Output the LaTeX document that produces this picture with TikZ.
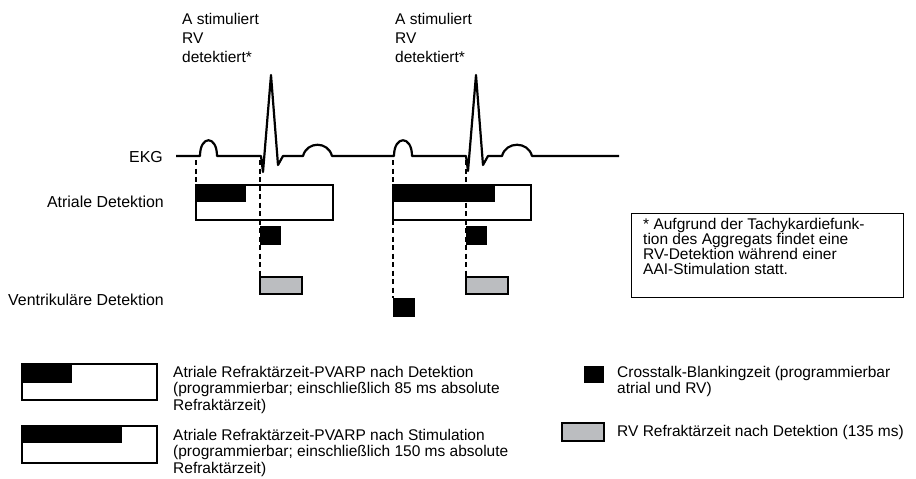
\documentclass[tikz,border=0pt]{standalone}
\usepackage{fontspec}
\setmainfont{Liberation Sans}
\usepackage{tikz}
\usetikzlibrary{positioning, calc}
\definecolor{RefGray}{RGB}{187,189,192}
\tikzset{
  txt/.style={font=\fontsize{15.5}{16.5}\selectfont, align=left, inner sep=0pt, anchor=north west},
  toptxt/.style={txt, font=\fontsize{15.5}{19}\selectfont},
  notetxt/.style={txt, font=\fontsize{15.5}{15}\selectfont},
  rowlbl/.style={font=\fontsize{15.9}{16.5}\selectfont, inner sep=0pt, anchor=base east},
  ekgline/.style={line width=2.2pt, line join=round},
  marker/.style={line width=1.6pt, dash pattern=on 5pt off 3.5pt},
  arpbox/.style={draw, line width=2pt, inner sep=0pt, outer sep=0pt, anchor=north west,
    minimum width=137, minimum height=35},
  blkbar/.style={fill=black, inner sep=0pt, outer sep=0pt, anchor=north west, minimum height=17},
  xtalk/.style={fill=black, inner sep=0pt, outer sep=0pt, anchor=north west,
    minimum width=21, minimum height=19},
  rvref/.style={draw, line width=1.8pt, fill=RefGray, inner sep=0pt, outer sep=0pt, anchor=north west,
    minimum width=42, minimum height=17},
  notebox/.style={draw, line width=0.9pt, inner sep=0pt, anchor=north west,
    minimum width=272, minimum height=84},
}

\begin{document}
\begin{tikzpicture}[x=1pt, y=-1pt]
  \useasboundingbox (0,0) rectangle (916,479);
  % labels above the beats
  \node[toptxt] (stim1) at (182,12.7) {A stimuliert\\RV\\detektiert*};
  \node[toptxt] (stim2) at (395,12.7) {A stimuliert\\RV\\detektiert*};
  % EKG trace
  \node[rowlbl] (ekg) at (163,162) {EKG};
  \draw[ekgline] (176,156) -- (200,156)
    .. controls (200,135) and (217,135) .. (217,156)
    -- (261,156) -- (263,172) -- (271,75) -- (278,165) -- (283,156)
    -- (303,156) .. controls (307,141) and (328,141) .. (332,156)
    -- (394,156) .. controls (394,135) and (412,135) .. (412,156)
    -- (466,156) -- (468,171) -- (476,75) -- (483,165) -- (488,156)
    -- (502,156) .. controls (506,141) and (528,141) .. (532,156)
    -- (619,156);
  % row labels
  \node[rowlbl] (atr) at (164,207) {Atriale Detektion};
  \node[rowlbl] (ven) at (164,305) {Ventrikuläre Detektion};
  % atrial refractory periods
  \node[arpbox] (arp1) at (196,185) {};
  \node[blkbar, minimum width=50] (arpb1) at (arp1.north west) {};
  \node[arpbox, minimum width=138] (arp2) at (393,185) {};
  \node[blkbar, minimum width=102] (arpb2) at (arp2.north west) {};
  % crosstalk blanking and RV refractory
  \foreach \x [count=\i] in {260,466} {
    \node[xtalk] (xt\i) at (\x,226) {};
    \node[rvref] (rv\i) at (\x,277) {};
  }
  \node[xtalk, minimum width=22] (vs) at (393,298) {};
  % markers
  \coordinate (m1) at (196,160);
  \coordinate (m2) at (260,160);
  \coordinate (m3) at (393,160);
  \coordinate (m4) at (466,160);
  \draw[marker] (m1) -- (arp1.north west);
  \draw[marker] (m2) -- (rv1.north west);
  \draw[marker] (m3) -- (vs.north west);
  \draw[marker] (m4) -- (rv2.north west);
  % footnote
  \node[notebox] (note) at (631,213) {};
  \node[notetxt] (notetext) at (643,217.7) {* Aufgrund der Tachykardiefunk-\\tion des Aggregats findet eine\\RV-Detektion während einer\\AAI-Stimulation statt.};
  % legend
  \node[arpbox, minimum width=135, minimum height=36] (leg1) at (22,364) {};
  \node[blkbar, minimum width=50, minimum height=19] (legb1) at (leg1.north west) {};
  \node[txt] (leg1txt) at (173,365.7) {Atriale Refraktärzeit-PVARP nach Detektion\\(programmierbar; einschließlich 85 ms absolute\\Refraktärzeit)};
  \node[arpbox, minimum width=135, minimum height=37] (leg2) at (22,426) {};
  \node[blkbar, minimum width=100] (legb2) at (leg2.north west) {};
  \node[txt] (leg2txt) at (173,428.7) {Atriale Refraktärzeit-PVARP nach Stimulation\\(programmierbar; einschließlich 150 ms absolute\\Refraktärzeit)};
  \node[xtalk, minimum width=20, minimum height=17] (leg3) at (584,366) {};
  \node[txt] (leg3txt) at (617,365.7) {Crosstalk-Blankingzeit (programmierbar\\atrial und RV)};
  \node[rvref, minimum height=18] (leg4) at (562,423) {};
  \node[txt] (leg4txt) at (617,424.7) {RV Refraktärzeit nach Detektion (135 ms)};
\end{tikzpicture}
\end{document}
